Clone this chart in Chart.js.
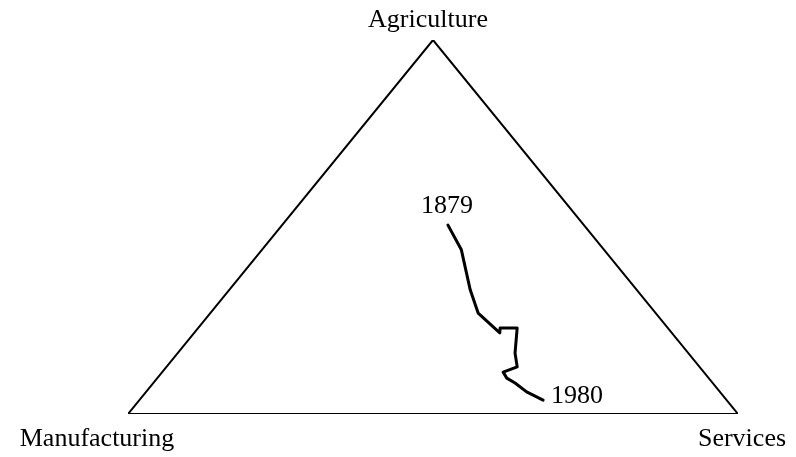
<!DOCTYPE html>
<html>
<head>
    <title>Sectoral shares 1879-1980</title>
    <script src="https://cdn.jsdelivr.net/npm/chart.js"></script>
    <style>
        body { margin: 0; background: #fff; }
        #wrap { width: 796px; height: 457px; }
    </style>
</head>
<body>
    <div id="wrap"><canvas id="chart" width="796" height="457"></canvas></div>
    <script>
        // employment shares in percent, one entry per observation (1879 ... 1980)
        const agriculture   = [50.5, 43.9, 33.2, 27.0, 21.7, 23.0, 23.0, 16.3, 12.6, 11.2, 9.6, 8.3, 5.9, 3.7];
        const manufacturing = [22.3, 23.4, 27.3, 29.1, 28.2, 27.5, 24.7, 28.4, 29.9, 32.9, 33.1, 32.4, 31.7, 30.1];
        const services      = [27.2, 32.7, 39.5, 43.9, 50.1, 49.5, 52.3, 55.3, 57.5, 55.9, 57.3, 59.3, 62.4, 66.2];
        const firstYear = '1879';
        const lastYear = '1980';
        const cornerLabels = ['Agriculture', 'Manufacturing', 'Services'];

        // ternary -> plane: manufacturing corner (0,0), services (1,0), agriculture (0.5,1)
        function toXY(a, m, s) {
            const t = a + m + s;
            return { x: (s + a / 2) / t, y: a / t };
        }

        const pathPoints = agriculture.map((a, i) => toXY(a, manufacturing[i], services[i]));
        const triangle = [toXY(0, 100, 0), toXY(0, 0, 100), toXY(100, 0, 0), toXY(0, 100, 0)];

        const labelPlugin = {
            id: 'labels',
            afterDraw(chart) {
                const ctx = chart.ctx;
                const xs = chart.scales.x, ys = chart.scales.y;
                ctx.save();
                ctx.fillStyle = '#000';
                ctx.font = '26px "Liberation Serif", "DejaVu Serif", serif';
                ctx.textBaseline = 'middle';

                ctx.textAlign = 'center';
                ctx.fillText(cornerLabels[0], xs.getPixelForValue(triangle[2].x) - 5, ys.getPixelForValue(triangle[2].y) - 20);
                ctx.fillText(cornerLabels[1], xs.getPixelForValue(triangle[0].x) - 31, ys.getPixelForValue(triangle[0].y) + 25);
                ctx.fillText(cornerLabels[2], xs.getPixelForValue(triangle[1].x) + 4, ys.getPixelForValue(triangle[1].y) + 25);

                const p0 = pathPoints[0];
                const pn = pathPoints[pathPoints.length - 1];
                ctx.fillText(firstYear, xs.getPixelForValue(p0.x) - 1, ys.getPixelForValue(p0.y) - 19);
                ctx.textAlign = 'left';
                ctx.fillText(lastYear, xs.getPixelForValue(pn.x) + 8, ys.getPixelForValue(pn.y) - 4);
                ctx.restore();
            }
        };

        new Chart(document.getElementById('chart'), {
            type: 'scatter',
            data: {
                datasets: [
                    {
                        data: triangle,
                        showLine: true,
                        borderColor: '#000',
                        borderWidth: 2,
                        pointRadius: 0,
                        fill: false
                    },
                    {
                        data: pathPoints,
                        showLine: true,
                        borderColor: '#000',
                        borderWidth: 3,
                        borderJoinStyle: 'round',
                        borderCapStyle: 'round',
                        pointRadius: 0,
                        fill: false
                    }
                ]
            },
            options: {
                responsive: false,
                animation: false,
                layout: { padding: { left: 128, right: 58, top: 40, bottom: 43 } },
                scales: {
                    x: { type: 'linear', min: 0, max: 1, display: false },
                    y: { type: 'linear', min: 0, max: 1, display: false }
                },
                plugins: {
                    legend: { display: false },
                    tooltip: { enabled: false }
                }
            },
            plugins: [labelPlugin]
        });
    </script>
</body>
</html>
